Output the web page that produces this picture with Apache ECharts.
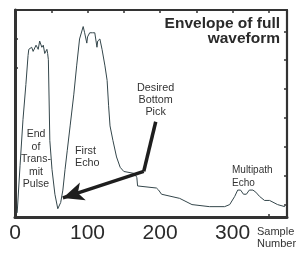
<!DOCTYPE html>
<html>
<head>
<meta charset="utf-8">
<script src="https://cdn.jsdelivr.net/npm/echarts@6/dist/echarts.min.js"></script>
<style>
html,body{margin:0;padding:0;background:#fff;}
#chart{width:303px;height:255px;}
</style>
</head>
<body>
<div id="chart"></div>
<script>
// sample number along the trace
var samples = [3,7,11,15,18,19,23,25,29,32,34,37,39,41,44,45,46,47,48,51,55,59,63,66,69,72,76,81,85,89,94,
	96,99,100,103,107,110,113,114,117,120,124,127,129,131,135,140,145,150,165,168,169,195,198,202,227,244,268,289,
	296,303,307,311,315,319,323,328,332,337,344,351,362,372];
// envelope amplitude (arbitrary units, 0-100)
var envelope = [2,25,47,64,78,81,82,80,83,81,85,82,83,79,81,79,76,57,37,23,11,4,7,13,23,32,44,59,73,86,92,
	89,84,87,89,89,89,82,85,86,81,73,66,54,44,37,29,24,22,21,19,15,14,13,11,9,6,5,5,
	6,10,13,13,11,11,13,13,12,10,8,8,6,5];

var xLabels = [0,100,200,300];
var bottomTicks = [350];
var rightTicks = [5.8,19.8,33.8,47.8,61.8,75.8,89.4];
var leftTicks = [72,86];

// arrow "Desired Bottom Pick": start, bend, tip
var arrowPts = [[194,46],[177.5,22],[66,9.2]];

var points = samples.map(function(s,i){ return [s, envelope[i]]; });

var tickStyle = {color:'#333', width:1.5};

// a bare category axis used only to place inner ticks at given values
function tickAxis(position, min, max, step, vals){
	var cats = [];
	for (var v = min; v <= max + 1e-9; v += step) cats.push(+v.toFixed(2));
	var idx = vals.map(function(v){ return Math.round((v - min) / step); });
	return {
		type:'category', position:position, data:cats, boundaryGap:false,
		axisLine:{show:false, onZero:false},
		axisTick:{show:true, inside:true, length:3, lineStyle:tickStyle,
			interval:function(i){ return idx.indexOf(i) >= 0; }},
		axisLabel:{show:false},
		splitLine:{show:false}
	};
}
function frameLine(w){
	return {show:true, onZero:false, lineStyle:{color:'#333', width:w}};
}

var option = {
	animation:false,
	grid:{left:15, right:16, top:10, bottom:38},
	xAxis:[
		{
			type:'value', position:'bottom', min:0, max:375, interval:100,
			axisLine:frameLine(3),
			axisTick:{show:false},
			splitLine:{show:false},
			axisLabel:{
				showMaxLabel:false, margin:6, color:'#2a2a2a',
				fontFamily:'Liberation Sans', fontSize:21,
				formatter:function(v){ return xLabels.indexOf(v) >= 0 ? String(v) : ''; }
			}
		},
		{
			type:'value', position:'top', min:0, max:375, interval:50,
			axisLine:frameLine(2.2),
			axisTick:{show:true, inside:true, length:3, lineStyle:tickStyle},
			splitLine:{show:false},
			axisLabel:{show:false}
		},
		tickAxis('bottom', 0, 375, 1, bottomTicks)
	],
	yAxis:[
		{
			type:'value', position:'left', min:0, max:100,
			axisLine:frameLine(3),
			axisTick:{show:false},
			splitLine:{show:false},
			axisLabel:{show:false}
		},
		{
			type:'value', position:'right', min:0, max:100,
			axisLine:frameLine(2.2),
			axisTick:{show:false},
			splitLine:{show:false},
			axisLabel:{show:false}
		},
		tickAxis('left', 0, 100, 0.2, leftTicks),
		tickAxis('right', 0, 100, 0.2, rightTicks)
	],
	series:[
		{
			type:'line',
			data:points,
			xAxisIndex:0, yAxisIndex:0,
			showSymbol:false,
			lineStyle:{color:'#34464b', width:1},
			z:3
		},
		{
			type:'line',
			data:[],
			xAxisIndex:0, yAxisIndex:0,
			markLine:{
				silent:true,
				animation:false,
				label:{show:false},
				lineStyle:{color:'#1e1e1e', width:3.5, type:'solid'},
				data:[
					[{coord:arrowPts[0], symbol:'none'}, {coord:arrowPts[1], symbol:'none'}],
					[{coord:arrowPts[1], symbol:'none'}, {coord:arrowPts[2], symbol:'arrow', symbolSize:[14,21]}]
				]
			}
		}
	],
	graphic:[
		{type:'text', right:23, top:16, style:{text:'Envelope of full',
			font:'bold 15.5px "Liberation Sans"', fill:'#2a2a2a'}},
		{type:'text', right:23, top:31, style:{text:'waveform',
			font:'bold 15.5px "Liberation Sans"', fill:'#2a2a2a'}},
		{type:'text', left:137, top:82, style:{text:'Desired\nBottom\nPick', textAlign:'center',
			font:'10.8px "Liberation Sans"', fill:'#333', lineHeight:12}},
		{type:'text', left:21, top:128, style:{text:'End\nof\nTrans-\nmit\nPulse', textAlign:'center',
			font:'10.5px "Liberation Sans"', fill:'#333', lineHeight:12.5}},
		{type:'text', left:75, top:145, style:{text:'First\nEcho',
			font:'10.8px "Liberation Sans"', fill:'#333', lineHeight:12}},
		{type:'text', left:232, top:164, style:{text:'Multipath\nEcho',
			font:'10px "Liberation Sans"', fill:'#333', lineHeight:12.5}},
		{type:'text', left:257, top:226, style:{text:'Sample\nNumber',
			font:'11px "Liberation Sans"', fill:'#333', lineHeight:12}}
	]
};

echarts.init(document.getElementById('chart')).setOption(option);
</script>
</body>
</html>
